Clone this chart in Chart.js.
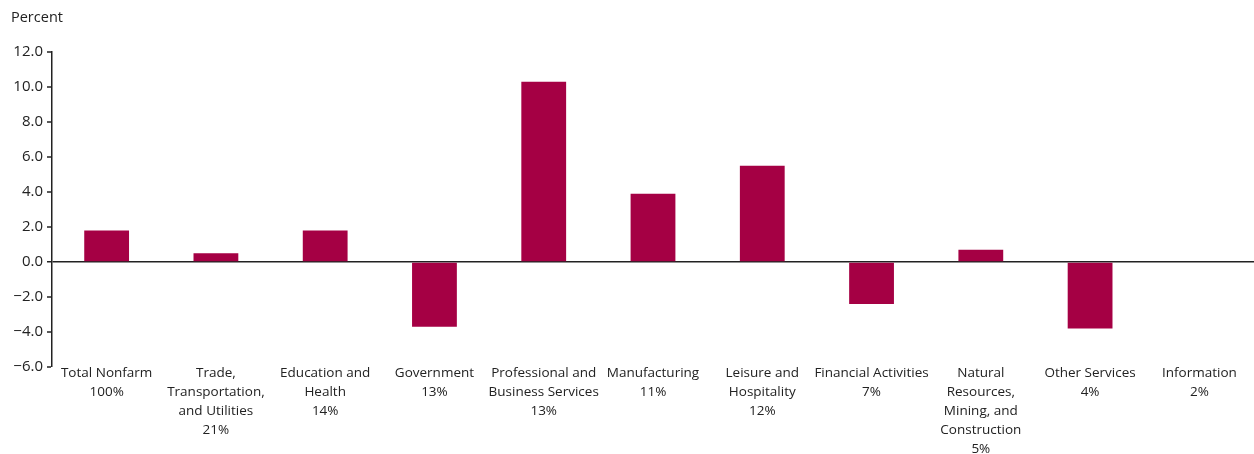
<!DOCTYPE html>
<html>
<head>
<meta charset="utf-8">
<script src="https://cdn.jsdelivr.net/npm/chart.js@4.4.1/dist/chart.umd.min.js"></script>
<style>
  html, body { margin: 0; padding: 0; background: #fff; }
  #wrap { width: 1254px; height: 454px; position: relative; }
</style>
</head>
<body>
<div id="wrap"><canvas id="chart"></canvas></div>
<script>
        // Categories (name lines + share of employment)
        const categories = [
            ['Total Nonfarm', '100%'],
            ['Trade,', 'Transportation,', 'and Utilities', '21%'],
            ['Education and', 'Health', '14%'],
            ['Government', '13%'],
            ['Professional and', 'Business Services', '13%'],
            ['Manufacturing', '11%'],
            ['Leisure and', 'Hospitality', '12%'],
            ['Financial Activities', '7%'],
            ['Natural', 'Resources,', 'Mining, and', 'Construction', '5%'],
            ['Other Services', '4%'],
            ['Information', '2%']
        ];
        const changeValues = [1.8, 0.5, 1.8, -3.7, 10.3, 3.9, 5.5, -2.4, 0.7, -3.8, 0.0];
        const yTicks = [-6, -4, -2, 0, 2, 4, 6, 8, 10, 12];

        const fontFamily = '"Open Sans", "Noto Sans", sans-serif';
        const textColor = '#222';

        // Axis title drawn at top-left
        const percentLabel = {
            id: 'percentLabel',
            afterDraw(chart) {
                const ctx = chart.ctx;
                ctx.save();
                ctx.font = '14.5px ' + fontFamily;
                ctx.fillStyle = textColor;
                ctx.textAlign = 'left';
                ctx.textBaseline = 'middle';
                ctx.fillText('Percent', 11, 18);
                ctx.restore();
            }
        };

        const ctx = document.getElementById('chart').getContext('2d');
        new Chart(ctx, {
            type: 'bar',
            data: {
                labels: categories,
                datasets: [{
                    data: changeValues,
                    backgroundColor: '#A50044',
                    borderWidth: 0,
                    barPercentage: 0.41,
                    categoryPercentage: 1.0
                }]
            },
            options: {
                responsive: true,
                maintainAspectRatio: false,
                animation: false,
                layout: { padding: { top: 52, right: 0, left: 0, bottom: 0 } },
                plugins: {
                    legend: { display: false },
                    tooltip: { enabled: false }
                },
                scales: {
                    x: {
                        afterFit(scale) { scale.height = 87; },
                        grid: { display: false, drawTicks: false, tickLength: 0 },
                        border: { display: false },
                        ticks: {
                            color: textColor,
                            font: { family: fontFamily, size: 13.5, lineHeight: 1.407 },
                            maxRotation: 0,
                            autoSkip: false,
                            padding: -3
                        }
                    },
                    y: {
                        min: -6,
                        max: 12,
                        afterFit(scale) { scale.width = 52; },
                        afterBuildTicks(scale) {
                            scale.ticks = yTicks.map(v => ({ value: v }));
                        },
                        border: { display: true, color: '#222', width: 1.5 },
                        grid: {
                            drawOnChartArea: true,
                            drawTicks: true,
                            tickLength: 5,
                            tickColor: '#222',
                            tickWidth: 1.5,
                            color: c => c.tick && c.tick.value === 0 ? '#222' : 'rgba(0,0,0,0)',
                            lineWidth: c => c.tick && c.tick.value === 0 ? 1.5 : 0
                        },
                        ticks: {
                            color: textColor,
                            font: { family: fontFamily, size: 15 },
                            padding: 4,
                            callback: v => (v < 0 ? '\u2212' + Math.abs(v).toFixed(1) : v.toFixed(1))
                        }
                    }
                }
            },
            plugins: [percentLabel]
        });
</script>
</body>
</html>
